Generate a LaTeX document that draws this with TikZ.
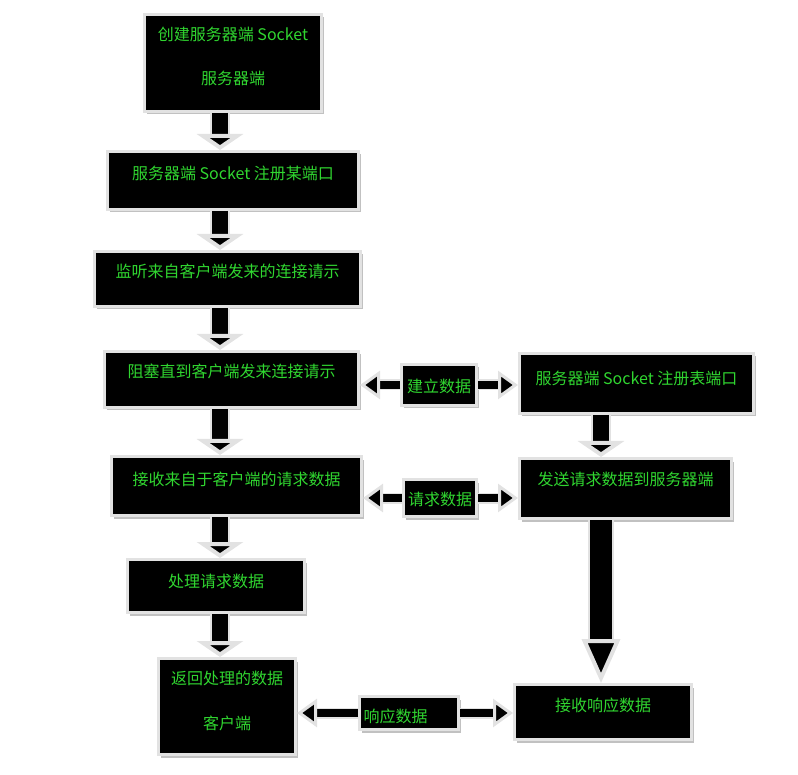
\documentclass[tikz,border=0pt]{standalone}
\usepackage{fontspec}
\newfontfamily\cjk{Noto Sans CJK SC}
\usetikzlibrary{arrows.meta,shadows}
\definecolor{txtgreen}{RGB}{48,214,48}
\definecolor{rim}{RGB}{226,226,226}

\tikzset{
  box/.style={fill=black, draw=rim, line width=3pt, text=txtgreen,
    font=\cjk\fontsize{16}{18}\selectfont, inner xsep=2pt, inner ysep=0pt,
    anchor=north west, align=center,
    drop shadow={shadow xshift=2pt, shadow yshift=-3pt, fill=gray!60, opacity=.8}},
  downarrow/.style={draw=black, line width=16pt,
    preaction={draw=rim, line width=20pt, arrows=-, shorten >=12pt},
    -{Triangle[length=16pt, width=46pt, fill=black, color=rim, line width=5pt]}},
  longarrow/.style={draw=black, line width=22pt,
    preaction={draw=rim, line width=26pt, arrows=-, shorten >=30pt},
    -{Triangle[length=44pt, width=38pt, fill=black, color=rim, line width=4pt]}},
  sidearrow/.style={draw=black, line width=8pt,
    preaction={draw=rim, line width=11pt, arrows=-, shorten >=12pt},
    -{Triangle[length=20pt, width=28pt, fill=black, color=rim, line width=3pt]}}
}

\begin{document}
\begin{tikzpicture}[x=1pt,y=-1pt]
  \useasboundingbox (0,0) rectangle (798,775);
  %%%%%%%%%%%%%%%%% server side %%%%%%%%%%%%%%%%%%%
  \node[box, minimum width=177, text height=70, text depth=27] (create) at (143,13)
    {创建服务器端 Socket\\[26pt]服务器端};
  \node[box, minimum width=251, text height=28, text depth=30] (reg) at (106,150)
    {服务器端 Socket 注册某端口};
  \node[box, minimum width=266, text height=26, text depth=29] (listen) at (93,250)
    {监听来自客户端发来的连接请示};
  \node[box, minimum width=254, text height=26, text depth=30] (block) at (103,350)
    {阻塞直到客户端发来连接请示};
  \node[box, minimum width=250, text height=29, text depth=30] (recv) at (110,455)
    {接收来自于客户端的请求数据};
  \node[box, minimum width=177, text height=28, text depth=25] (proc) at (126,558)
    {处理请求数据};
  \node[box, minimum width=137, text height=71, text depth=25] (ret) at (157,657)
    {返回处理的数据\\[27pt]客户端};
  %%%%%%%%%%%%%%%%% client side %%%%%%%%%%%%%%%%%%%
  \node[box, minimum width=234, text height=31, text depth=29] (srvport) at (518,352)
    {服务器端 Socket 注册表端口};
  \node[box, minimum width=212, text height=27, text depth=33] (send) at (518,457)
    {发送请求数据到服务器端};
  \node[box, minimum width=177, text height=27, text depth=28] (rresp) at (513,683)
    {接收响应数据};
  %%%%%%%%%%%%%%%%% labels %%%%%%%%%%%%%%%%%%%%%%%%
  \node[box, minimum width=75, text height=28, text depth=13] (lbuild) at (400,363) {建立数据};
  \node[box, minimum width=73, text height=26, text depth=11] (lreq) at (402,478) {请求数据};
  \node[box, text width=91, align=left, inner xsep=4pt, text height=26, text depth=7] (lresp) at (358,695) {响应数据};

  %%%%%%%%%%%%%%%%% arrows %%%%%%%%%%%%%%%%%%%%%%%%
  \coordinate (laxis) at (220,0);
  \coordinate (raxis) at (601,0);
  \foreach \from/\to in {create/reg,reg/listen,listen/block,block/recv,recv/proc,proc/ret}
    {\draw[downarrow] (\from.south -| laxis) -- (\to.north -| laxis);}
  \draw[downarrow] (srvport.south -| raxis) -- (send.north -| raxis);
  \draw[longarrow] (send.south -| raxis) -- (rresp.north -| raxis);
  % both ways from each label
  \foreach \lbl/\left/\right in {lbuild/block/srvport,lreq/recv/send,lresp/ret/rresp}
   {\draw[sidearrow] (\lbl.west) -- (\lbl.west -| \left.east);
    \draw[sidearrow] (\lbl.east) -- (\lbl.east -| \right.west);}
\end{tikzpicture}
\end{document}
